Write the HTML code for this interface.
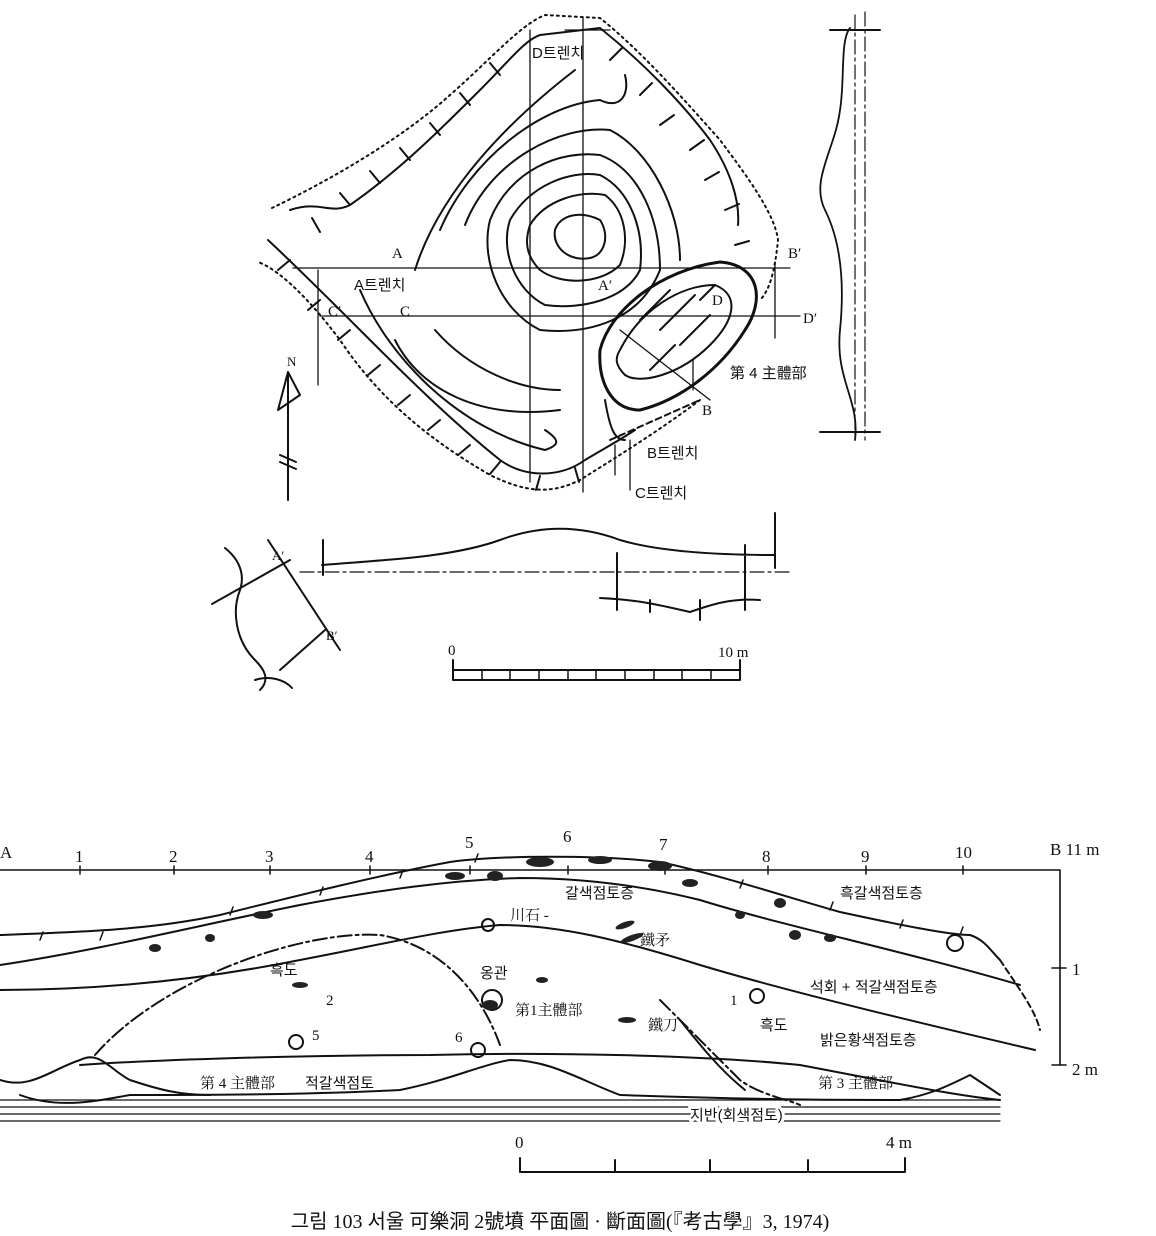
<!DOCTYPE html>
<html><head><meta charset="utf-8">
<style>
html,body{margin:0;padding:0;background:#fff;}
svg{display:block;}
text{font-family:"Liberation Serif","Noto Serif CJK SC","Noto Sans CJK KR",serif;fill:#111;}
.k{font-family:"Liberation Sans","Noto Sans CJK KR",sans-serif;}
</style></head><body>
<svg width="1156" height="1236" viewBox="0 0 1156 1236" xmlns="http://www.w3.org/2000/svg">
<g fill="none" stroke="#111" stroke-width="2" stroke-linecap="round" stroke-linejoin="round">
<path d="M272,208 C330,180 400,140 450,95 C490,60 520,25 545,15 L600,18 C640,50 680,95 720,140 C750,180 775,215 778,240 C775,270 770,290 760,300 M700,400 C660,430 620,455 580,480 C550,495 525,492 490,475 C430,440 380,400 340,340 C310,300 280,270 258,262" stroke-dasharray="2,4"/>
<path d="M290,210 C320,200 330,215 350,205 C400,170 440,130 480,90 C510,60 525,40 540,35 L600,28 C640,60 680,100 710,140 C730,170 740,200 738,225"/>
<path d="M268,240 C300,270 330,300 360,330 C400,370 450,420 500,460 C525,478 560,478 585,460 C605,448 620,440 635,430"/>
<path d="M320,232 l-8,-14 M350,205 l-10,-12 M380,183 l-10,-12 M410,160 l-10,-12 M440,135 l-10,-12 M470,105 l-10,-12 M500,75 l-10,-12 M610,60 l12,-12 M640,95 l12,-12 M660,125 l14,-10 M690,150 l14,-10 M705,180 l14,-8 M725,210 l14,-6 M735,245 l14,-4 M290,260 l-12,10 M320,300 l-12,10 M350,330 l-12,10 M380,365 l-12,10 M410,395 l-12,10 M440,420 l-12,10 M470,445 l-12,10 M500,462 l-10,12 M540,476 l-4,14 M575,468 l4,14"/>
<path d="M555,230 C560,215 580,210 600,220 C610,235 605,255 590,258 C570,262 552,248 555,230Z"/>
<path d="M530,225 C545,200 580,190 605,195 C625,210 630,240 620,265 C600,285 560,285 540,270 C525,255 525,240 530,225Z"/>
<path d="M510,220 C530,185 570,170 600,175 C630,190 645,230 640,270 C625,300 580,310 545,305 C515,290 500,250 510,220Z"/>
<path d="M490,220 C510,170 560,150 600,155 C640,170 660,220 660,270 C640,320 590,335 540,330 C500,310 480,260 490,220Z"/>
<path d="M465,225 C490,160 560,125 610,130 C650,150 680,210 680,260 M435,330 C470,370 520,390 560,390"/>
<path d="M440,230 C470,160 540,105 600,100 C620,110 630,95 625,75 M395,340 C420,390 480,420 560,410"/>
<path d="M415,270 C440,190 510,120 575,70 M360,290 C390,360 460,430 545,450 C560,445 560,440 545,430"/>
<path d="M600,350 C610,310 660,270 720,262 C760,265 765,300 745,330 C720,370 680,400 640,410 C610,410 598,380 600,350Z" stroke-width="3"/>
<path d="M620,350 C640,310 680,285 715,285 C740,295 735,320 710,345 C680,375 640,385 625,375 C615,365 615,358 620,350Z"/>
<path d="M605,400 C610,430 615,440 625,440"/>
<path d="M610,440 L700,400" stroke-dasharray="6,4"/>
<path d="M640,320 l30,-30 M660,330 l35,-35 M680,345 l30,-30 M650,370 l25,-25 M700,300 l15,-15"/>
<g stroke-width="1.3">
<path d="M293,268 L790,268 M320,316 L800,316 M530,30 L530,482 M583,18 L583,492 M615,445 L615,475 M630,440 L630,490 M318,270 L318,385 M693,360 L693,390 M775,262 L775,338 M620,330 L710,400"/>
<path d="M565,30 L610,30"/>
</g>
<path d="M855,15 L855,440 M865,12 L865,440" stroke-width="1.2" stroke-dasharray="14,4,3,4"/>
<path d="M850,28 C840,40 845,80 840,110 C835,150 810,180 825,210 C840,240 845,280 840,330 C835,380 860,400 855,440" stroke-width="1.8"/>
<path d="M830,30 L880,30 M820,432 L880,432" stroke-width="2"/>
<path d="M288,372 L288,500 M288,372 L278,410 L300,395 Z M280,455 L296,462 M280,462 L296,469" stroke-width="2"/>
<path d="M225,548 C240,560 245,575 240,590 C232,610 235,640 255,660 C265,670 270,680 260,690 M255,680 C270,675 285,680 292,688" stroke-width="2"/>
<path d="M268,540 L340,650 M212,604 L290,560 M280,670 L325,630"/>
<path d="M323,540 L323,575 M322,565 C380,560 450,558 500,540 C540,525 580,525 620,540 C660,552 720,555 775,555 M775,513 L775,568 M745,545 L745,610" stroke-width="2"/>
<path d="M300,572 L790,572" stroke-width="1.2" stroke-dasharray="14,4,3,4"/>
<path d="M600,598 C640,600 660,605 690,612 C710,605 730,598 760,600 M617,553 L617,610 M700,600 L700,620 M650,600 L650,612" stroke-width="2"/>
<path d="M453,660 L453,680 L740,680 L740,660 M453,670 L740,670"/>
<path d="M482,670v10M510,670v10M539,670v10M568,670v10M596,670v10M625,670v10M654,670v10M682,670v10M711,670v10" stroke-width="1.5"/>
</g>
<g font-size="15">
<text x="532" y="58" class="k">D트렌치</text>
<text x="392" y="258">A</text>
<text x="354" y="290" class="k">A트렌치</text>
<text x="328" y="316">C′</text>
<text x="400" y="316">C</text>
<text x="598" y="290">A′</text>
<text x="788" y="258">B′</text>
<text x="712" y="305">D</text>
<text x="803" y="323">D′</text>
<text x="730" y="378" class="k">第 4 主體部</text>
<text x="702" y="415">B</text>
<text x="647" y="458" class="k">B트렌치</text>
<text x="635" y="498" class="k">C트렌치</text>
<text x="287" y="366" font-size="13">N</text>
<text x="272" y="560" font-size="13">A′</text>
<text x="326" y="640" font-size="13">B′</text>
<text x="448" y="655">0</text>
<text x="718" y="657">10 m</text>
</g>
<g fill="none" stroke="#111" stroke-width="2" stroke-linecap="round" stroke-linejoin="round">
<path d="M0,870 L1060,870 M1060,870 L1060,1065 M1052,968 L1066,968 M1052,1065 L1066,1065" stroke-width="1.6"/>
<path d="M80,866v8 M174,866v8 M270,866v8 M370,866v8 M470,866v8 M568,866v8 M665,866v8 M768,866v8 M866,866v8 M963,866v8" stroke-width="1.5"/>
<path d="M0,935 C80,932 150,930 220,915 C300,895 380,875 450,862 C500,855 600,855 660,862 C720,875 780,895 840,912 C900,925 950,935 970,935 C985,940 990,950 1000,960"/>
<path d="M0,965 C100,950 200,925 300,905 C380,890 450,880 520,878 C580,878 640,885 700,900 C780,925 900,950 1020,985"/>
<path d="M0,990 C100,990 200,980 300,960 C380,945 440,930 500,925 C560,925 620,940 700,965 C800,995 950,1030 1035,1050"/>
<path d="M1000,960 C1020,990 1035,1010 1040,1030" stroke-dasharray="6,4"/>
<path d="M0,1080 C30,1090 50,1070 80,1060 C100,1050 110,1070 130,1080 C160,1090 180,1095 210,1095"/>
<path d="M95,1055 C160,980 300,930 380,935 C440,945 480,990 500,1045" stroke-dasharray="14,4,3,4"/>
<path d="M80,1065 C150,1060 300,1055 430,1055 C550,1052 700,1055 800,1065 C880,1080 950,1095 1000,1100"/>
<path d="M20,1095 C60,1110 100,1100 130,1095 C200,1095 300,1095 400,1090 C450,1080 480,1065 510,1060 C550,1060 580,1080 620,1095 C700,1098 800,1100 900,1100 C930,1095 950,1085 970,1075 L1000,1095"/>
<path d="M660,1000 C690,1030 720,1060 740,1080 C760,1095 790,1100 800,1105" stroke-dasharray="14,4,3,4"/>
<path d="M680,1020 C700,1045 720,1070 745,1090"/>
<path d="M0,1100 L1000,1100 M0,1107 L1000,1107 M0,1114 L1000,1114 M0,1121 L1000,1121" stroke-width="1.2"/>
<path d="M520,1158 L520,1172 L905,1172 L905,1158 M615,1160v12 M710,1160v12 M808,1160v12"/>
<path d="M40,940 l3,-8 M100,940 l3,-8 M230,915 l3,-8 M320,895 l3,-8 M400,878 l3,-8 M475,862 l3,-8 M740,888 l3,-8 M830,910 l3,-8 M900,928 l3,-8 M960,935 l3,-8" stroke-width="1.5"/>
<circle cx="296" cy="1042" r="7"/><circle cx="478" cy="1050" r="7"/><circle cx="757" cy="996" r="7"/><circle cx="492" cy="1000" r="10"/><circle cx="488" cy="925" r="6"/><circle cx="955" cy="943" r="8"/>
</g>
<g fill="#222">
<ellipse cx="455" cy="876" rx="10" ry="4"/><ellipse cx="495" cy="876" rx="8" ry="5"/><ellipse cx="540" cy="862" rx="14" ry="5"/><ellipse cx="600" cy="860" rx="12" ry="4"/><ellipse cx="660" cy="866" rx="12" ry="5"/><ellipse cx="690" cy="883" rx="8" ry="4"/>
<ellipse cx="263" cy="915" rx="10" ry="4"/><ellipse cx="155" cy="948" rx="6" ry="4"/><ellipse cx="210" cy="938" rx="5" ry="4"/><ellipse cx="300" cy="985" rx="8" ry="3"/>
<ellipse cx="780" cy="903" rx="6" ry="5"/><ellipse cx="795" cy="935" rx="6" ry="5"/><ellipse cx="830" cy="938" rx="6" ry="4"/><ellipse cx="740" cy="915" rx="5" ry="4"/>
<ellipse cx="625" cy="925" rx="10" ry="3" transform="rotate(-20 625 925)"/><ellipse cx="632" cy="938" rx="12" ry="3" transform="rotate(-20 632 938)"/><ellipse cx="542" cy="980" rx="6" ry="3"/><ellipse cx="627" cy="1020" rx="9" ry="3"/><ellipse cx="490" cy="1005" rx="8" ry="5"/>
</g>
<g font-size="17">
<text x="0" y="858">A</text>
<text x="75" y="862">1</text><text x="169" y="862">2</text><text x="265" y="862">3</text><text x="365" y="862">4</text><text x="465" y="848">5</text><text x="563" y="842">6</text><text x="659" y="850">7</text><text x="762" y="862">8</text><text x="861" y="862">9</text><text x="955" y="858">10</text>
<text x="1050" y="855">B 11 m</text>
<text x="1072" y="975">1</text><text x="1072" y="1075">2 m</text>
<text x="565" y="898" class="k" font-size="15">갈색점토층</text>
<text x="840" y="898" class="k" font-size="15">흑갈색점토층</text>
<text x="510" y="920" font-size="15">川石 -</text>
<text x="640" y="945" font-size="15">鐵矛</text>
<text x="270" y="975" class="k" font-size="15">흑도</text>
<text x="326" y="1005" font-size="15">2</text>
<text x="480" y="978" class="k" font-size="15">옹관</text>
<text x="515" y="1015" font-size="15">第1主體部</text>
<text x="648" y="1030" font-size="15">鐵刀</text>
<text x="730" y="1005" font-size="15">1</text>
<text x="760" y="1030" class="k" font-size="15">흑도</text>
<text x="810" y="992" class="k" font-size="15">석회 + 적갈색점토층</text>
<text x="820" y="1045" class="k" font-size="15">밝은황색점토층</text>
<text x="312" y="1040" font-size="15">5</text>
<text x="455" y="1042" font-size="15">6</text>
<text x="200" y="1088" font-size="15">第 4 主體部</text>
<text x="305" y="1088" class="k" font-size="15">적갈색점토</text>
<text x="818" y="1088" font-size="15">第 3 主體部</text>
<text x="690" y="1120" class="k" font-size="15" style="paint-order:stroke" stroke="#fff" stroke-width="6">지반(회색점토)</text>
<text x="515" y="1148">0</text>
<text x="886" y="1148">4 m</text>
</g>
<text x="560" y="1228" font-size="20" text-anchor="middle" style="font-family:'Liberation Serif','Noto Sans CJK KR',serif">그림 103  서울 可樂洞 2號墳 平面圖 · 斷面圖(『考古學』3, 1974)</text>
</svg>
</body></html>
